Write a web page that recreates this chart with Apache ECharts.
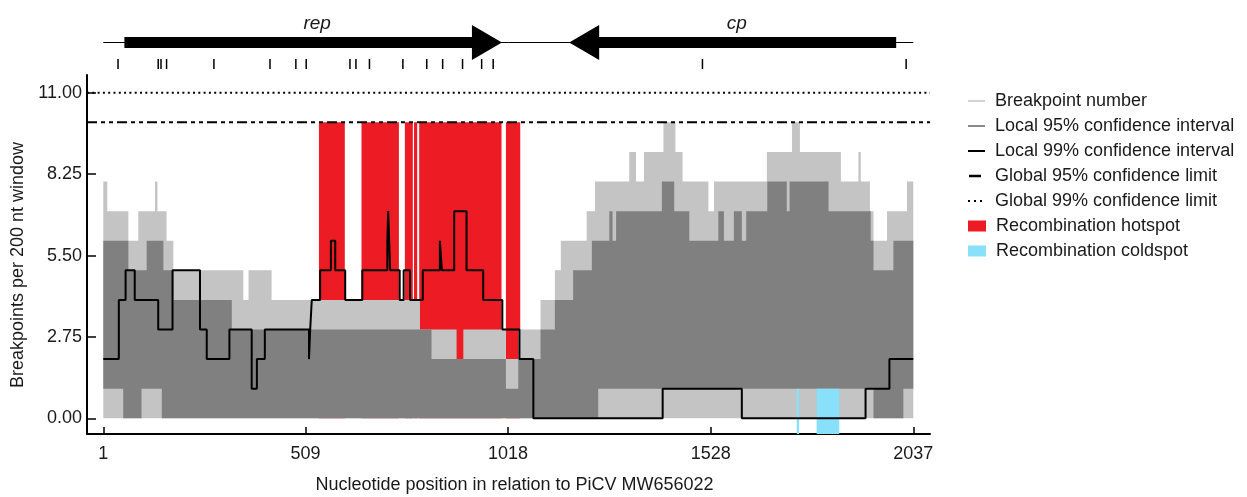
<!DOCTYPE html>
<html><head><meta charset="utf-8">
<script src="https://cdn.jsdelivr.net/npm/echarts@6/dist/echarts.min.js"></script>
<style>html,body{margin:0;padding:0;background:#fff}#c{width:1247px;height:497px}</style>
</head><body><div id="c"></div>
<script>
// ---------------- data ----------------
const xTicks = [1, 509, 1018, 1528, 2037];
const yTicks = [0, 2.75, 5.5, 8.25, 11];
// step functions: [start nucleotide, value]
const hi99 = [[1,8],[11,7],[64,6],[89,7],[131,8],[137,7],[160,6],[177,5],[353,4],[366,5],[424,4],[797,3],[889,2],[906,3],[1013,2],[1044,3],[1100,4],[1136,5],[1151,6],[1216,7],[1237,8],[1323,9],[1340,8],[1360,9],[1409,10],[1439,9],[1457,8],[1522,7],[1536,8],[1669,9],[1732,10],[1752,9],[1855,8],[1899,9],[1905,8],[1928,7],[1937,6],[1971,7],[2021,8]];
const lo99 = [[1,0]];
const hi95 = [[1,6],[64,5],[110,6],[152,5],[177,4],[324,3],[826,2],[1013,1],[1044,2],[1100,3],[1136,4],[1182,5],[1229,6],[1273,7],[1281,6],[1290,7],[1405,8],[1436,7],[1474,6],[1547,7],[1561,6],[1586,7],[1606,6],[1617,7],[1670,8],[1719,7],[1726,8],[1824,7],[1930,6],[1937,5],[1987,6]];
const lo95 = [[1,1],[51,0],[97,1],[148,0],[1245,1],[1937,0],[2012,1]];
const bpLine = [[1,2],[40,4],[57,5],[80,4],[139,3],[175,5],[244,3],[261,2],[318,3],[374,1],[387,2],[407,3],[518,2],[521,3],[525,4],[546,5],[573,6],[584,5],[609,4],[652,5],[715,6],[717,7],[722,5],[746,4],[756,5],[772,4],[804,5],[847,6],[852,5],[883,7],[914,5],[956,4],[1004,3],[1047,2],[1082,0],[1407,1],[1606,0],[1917,1],[1977,2],[2037,2]];
const hotspots = [[543,608],[650,744],[759,779],[782,790],[795,1002],[1013,1049]];
const coldspots = [[1744,1750],[1794,1851]];
const global95 = 10;
const global99 = 11;
const genomeLength = 2037;
const genes = [{name:'rep', from:54, to:1003}, {name:'cp', from:1994, to:1172}];
const breakpointMarks = [38,139,146,160,279,420,485,511,621,636,670,754,814,854,904,952,981,1507,2019];

// ---------------- layout / style ----------------
const X_MIN = -40, X_MAX = 2079, Y_MIN = -0.53, Y_MAX = 11.6;
const FONT = "'Liberation Sans',Arial,sans-serif";
const TXT = '#1a1a1a';
const C_LIGHT = '#c4c4c4', C_DARK = '#808080', C_RED = '#ed1c24', C_CYAN = '#88e0fa';

function stepPoints(arr, end){
  const pts = [];
  for (let i = 0; i < arr.length; i++) {
    const x0 = arr[i][0], x1 = i + 1 < arr.length ? arr[i+1][0] : end;
    pts.push([x0, arr[i][1]], [x1, arr[i][1]]);
  }
  return pts;
}
function bandRender(upper, lower, color){
  return function(params, api){
    const up = stepPoints(upper, genomeLength).map(p => api.coord(p));
    const lo = stepPoints(lower, genomeLength).map(p => api.coord(p)).reverse();
    return {type:'polygon', shape:{points: up.concat(lo)}, style:{fill: color}, silent:true};
  };
}
function spansRender(spans, yLo, yHi, color){
  return function(params, api){
    const children = spans.map(s => {
      const a = api.coord([s[0], yHi]), b = api.coord([s[1], yLo]);
      return {type:'rect', shape:{x:a[0], y:a[1], width:b[0]-a[0], height:b[1]-a[1]}, style:{fill:color}};
    });
    return {type:'group', children, silent:true};
  };
}
function genomeRender(params, api){
  const Y = 42.5, BODY = 5.5, HEAD = 17.5, HEADLEN = 30;
  const ch = [];
  const a = api.coord([1, Y]), b = api.coord([genomeLength, Y]);
  ch.push({type:'line', shape:{x1:a[0], y1:a[1], x2:b[0], y2:b[1]}, style:{stroke:'#000', lineWidth:1}});
  genes.forEach(g => {
    const p0 = api.coord([g.from, Y]), p1 = api.coord([g.to, Y]);
    const dir = p1[0] > p0[0] ? 1 : -1;
    const hb = p1[0] - dir*HEADLEN;
    const y = p0[1];
    ch.push({type:'polygon', shape:{points:[[p0[0],y-BODY],[hb,y-BODY],[hb,y-HEAD],[p1[0],y],[hb,y+HEAD],[hb,y+BODY],[p0[0],y+BODY]]}, style:{fill:'#000'}});
    const mid = api.coord([(g.from+g.to)/2, 0]);
    ch.push({type:'text', x: mid[0]+4, y: 24, style:{text:g.name, font:"italic 19px "+FONT, fill:TXT, align:'center', verticalAlign:'middle'}});
  });
  breakpointMarks.forEach(m => {
    const p = api.coord([m, 0]);
    ch.push({type:'line', shape:{x1:p[0], y1:59, x2:p[0], y2:69}, style:{stroke:'#000', lineWidth:1.5}});
  });
  return {type:'group', children:ch, silent:true};
}

const chart = echarts.init(document.getElementById('c'), null, {renderer:'canvas'});
const legendBase = {orient:'vertical', left:968, selectedMode:false, itemGap:0, padding:0,
  textStyle:{fontFamily:FONT, fontSize:18, color:TXT, lineHeight:20, padding:[0,0,0,5]}};
function lg(name, top, extra){ return Object.assign({}, legendBase, {top: top-10, data:[name]}, extra); }

chart.setOption({
  animation:false,
  backgroundColor:'#fff',
  textStyle:{fontFamily:FONT},
  grid:[
    {left:87, right:317, top:75, bottom:63, outerBoundsMode:'none'},
    {left:87, right:317, top:0, height:75, outerBoundsMode:'none'}
  ],
  xAxis:[
    {type:'value', gridIndex:0, min:X_MIN, max:X_MAX,
     axisLine:{onZero:false, lineStyle:{color:'#000', width:2}},
     axisTick:{inside:true, length:7, customValues:xTicks, lineStyle:{color:'#000', width:1.5}},
     axisLabel:{customValues:xTicks, color:TXT, fontSize:18, fontFamily:FONT, margin:11, formatter:v=>String(v)},
     splitLine:{show:false},
     name:'Nucleotide position in relation to PiCV MW656022', nameLocation:'middle', nameGap:42,
     nameTextStyle:{color:TXT, fontSize:18, fontFamily:FONT, padding:[0,0,0,12]}},
    {type:'value', gridIndex:1, min:X_MIN, max:X_MAX, show:false}
  ],
  yAxis:[
    {type:'value', gridIndex:0, min:Y_MIN, max:Y_MAX,
     axisLine:{show:true, onZero:false, lineStyle:{color:'#000', width:2}},
     axisTick:{show:true, inside:true, length:9, customValues:yTicks, lineStyle:{color:'#000', width:1.5}},
     axisLabel:{customValues:yTicks, color:TXT, fontSize:18, fontFamily:FONT, margin:5, formatter:v=>v.toFixed(2)},
     splitLine:{show:false},
     name:'Breakpoints per 200 nt window', nameLocation:'middle', nameGap:51,
     nameTextStyle:{color:TXT, fontSize:18, fontFamily:FONT, padding:[0,21,0,0]}},
    {type:'value', gridIndex:1, min:0, max:75, inverse:true, show:false}
  ],
  legend:[
    lg('Breakpoint number', 101, {icon:'rect', itemWidth:17, itemHeight:2, data:[{name:'Breakpoint number', itemStyle:{color:'#d2d2d2'}}]}),
    lg('Local 95% confidence interval', 126, {icon:'rect', itemWidth:17, itemHeight:2, data:[{name:'Local 95% confidence interval', itemStyle:{color:'#8a8a8a'}}]}),
    lg('Local 99% confidence interval', 151, {icon:'rect', itemWidth:17, itemHeight:2, data:[{name:'Local 99% confidence interval', itemStyle:{color:'#000'}}]}),
    lg('Global 95% confidence limit', 176, {left:969, icon:'rect', itemWidth:12, itemHeight:2.5, textStyle:Object.assign({}, legendBase.textStyle, {padding:[0,0,0,9]}), data:[{name:'Global 95% confidence limit', itemStyle:{color:'#000'}}]}),
    lg('Global 99% confidence limit', 201, {icon:'path://M0,0h2v2h-2z M6,0h2v2h-2z M12,0h2v2h-2z', itemWidth:14, itemHeight:2, textStyle:Object.assign({}, legendBase.textStyle, {padding:[0,0,0,8]}), data:[{name:'Global 99% confidence limit', itemStyle:{color:'#000'}}]}),
    lg('Recombination hotspot', 226, {icon:'rect', itemWidth:18, itemHeight:11, data:[{name:'Recombination hotspot', itemStyle:{color:C_RED}}]}),
    lg('Recombination coldspot', 251, {icon:'rect', itemWidth:18, itemHeight:11, data:[{name:'Recombination coldspot', itemStyle:{color:C_CYAN}}]})
  ],
  series:[
    {name:'Recombination hotspot', type:'custom', xAxisIndex:0, yAxisIndex:0, z:1, data:[[0,0]], itemStyle:{color:C_RED},
     renderItem: spansRender(hotspots, 0, global95, C_RED)},
    {name:'Breakpoint number', type:'custom', xAxisIndex:0, yAxisIndex:0, z:2, data:[[0,0]], itemStyle:{color:C_LIGHT},
     renderItem: bandRender(hi99, lo99, C_LIGHT)},
    {name:'Local 95% confidence interval', type:'custom', xAxisIndex:0, yAxisIndex:0, z:3, data:[[0,0]], itemStyle:{color:C_DARK},
     renderItem: bandRender(hi95, lo95, C_DARK)},
    {name:'Recombination coldspot', type:'custom', xAxisIndex:0, yAxisIndex:0, z:4, data:[[0,0]], itemStyle:{color:C_CYAN},
     renderItem: spansRender(coldspots, Y_MIN, 1, C_CYAN)},
    {name:'Local 99% confidence interval', type:'line', xAxisIndex:0, yAxisIndex:0, z:5, step:'end', symbol:'none', data:bpLine,
     lineStyle:{color:'#000', width:2}, itemStyle:{color:'#000'}},
    {name:'Global 95% confidence limit', type:'line', xAxisIndex:0, yAxisIndex:0, z:6, symbol:'none', data:[[X_MIN,global95],[X_MAX,global95]],
     lineStyle:{color:'#000', width:2, type:[10,4,4,4,4,4]}, itemStyle:{color:'#000'}},
    {name:'Global 99% confidence limit', type:'line', xAxisIndex:0, yAxisIndex:0, z:6, symbol:'none', data:[[X_MIN,global99],[X_MAX,global99]],
     lineStyle:{color:'#000', width:2, type:[2,3.3]}, itemStyle:{color:'#000'}},
    {name:'genome', type:'custom', xAxisIndex:1, yAxisIndex:1, data:[[0,0]], renderItem: genomeRender}
  ]
});
</script></body></html>
